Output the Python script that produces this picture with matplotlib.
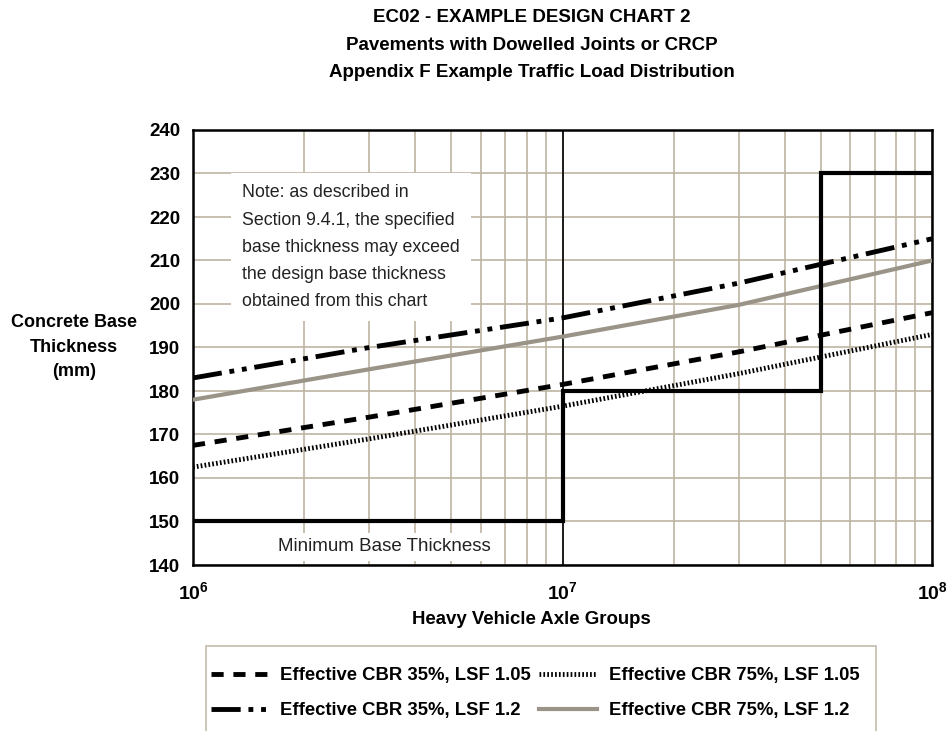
import numpy as np
import matplotlib.pyplot as plt
from matplotlib.ticker import LogLocator, NullFormatter
from matplotlib.patches import Rectangle

# -----------------------------
# DATA
# -----------------------------
axle_groups = [1e6, 3e6, 1e7, 3e7, 1e8]
cbr35_lsf105 = [167.5, 174.0, 181.5, 189.0, 198.0]
cbr75_lsf105 = [162.5, 169.0, 176.5, 184.0, 193.0]
cbr35_lsf12 = [183.0, 190.0, 196.8, 204.8, 215.0]
cbr75_lsf12 = [178.0, 185.0, 192.5, 199.8, 210.0]

min_x = [1e6, 1e7, 1e7, 5e7, 5e7, 1e8]
min_t = [150, 150, 180, 180, 230, 230]

yticks = list(range(140, 241, 10))

plt.rcParams['font.family'] = ['Liberation Sans', 'DejaVu Sans']
plt.rcParams['mathtext.fontset'] = 'custom'
plt.rcParams['mathtext.bf'] = 'Liberation Sans:bold'
plt.rcParams['mathtext.rm'] = 'Liberation Sans:bold'

grid_c = '#bdb5a2'
W, H = 949, 731

fig = plt.figure(figsize=(W/100, H/100), dpi=100)
ax = fig.add_axes([193/W, 1-565/H, (932-193)/W, (565-130)/H])

# -----------------------------
# CURVES
# -----------------------------
ax.plot(axle_groups, cbr75_lsf12, color='#9a9488', lw=3, label='Effective CBR 75%, LSF 1.2', zorder=3)
ax.plot(axle_groups, cbr35_lsf12, color='black', lw=3.5, dashes=(6, 1.6, 1, 1.6, 1, 1.6),
        label='Effective CBR 35%, LSF 1.2', zorder=4)
ax.plot(axle_groups, cbr35_lsf105, color='black', lw=3.5, dashes=(2.5, 2),
        label='Effective CBR 35%, LSF 1.05', zorder=4)
ax.plot(axle_groups, cbr75_lsf105, color='black', lw=3.5, dashes=(0.35, 0.45),
        label='Effective CBR 75%, LSF 1.05', zorder=4)
ax.plot(min_x, min_t, color='black', lw=3, zorder=5, solid_joinstyle='miter')

ax.axvline(1e7, color='black', lw=1.2, zorder=2)

# -----------------------------
# AXES
# -----------------------------
ax.set_xscale('log')
ax.set_xlim(1e6, 1e8)
ax.set_ylim(140, 240)
ax.xaxis.set_minor_locator(LogLocator(base=10, subs=np.arange(2, 10), numticks=20))
ax.xaxis.set_minor_formatter(NullFormatter())
ax.grid(True, which='both', color=grid_c, lw=1.2, zorder=0)
ax.tick_params(which='both', length=0)
ax.tick_params(axis='y', pad=9)
ax.tick_params(axis='x', pad=12)
ax.set_yticks(yticks)
ax.set_yticklabels([str(v) for v in yticks], fontsize=13.5, fontweight='bold')
ax.set_xticks([1e6, 1e7, 1e8])
ax.set_xticklabels([r'$\mathbf{10^6}$', r'$\mathbf{10^7}$', r'$\mathbf{10^8}$'], fontsize=14)
for s in ax.spines.values():
    s.set_linewidth(1.8)

ax.text(1.36e6, 227.5, 'Note: as described in\nSection 9.4.1, the specified\nbase thickness may exceed\n'
        'the design base thickness\nobtained from this chart',
        fontsize=12.8, va='top', ha='left', linespacing=1.78, color='#222222',
        bbox=dict(facecolor='white', edgecolor='none', pad=8), zorder=3)
ax.text(3.3e6, 144.2, 'Minimum Base Thickness', fontsize=13.5, ha='center', va='center',
        color='#222222', bbox=dict(facecolor='white', edgecolor='none', pad=4), zorder=3)

# -----------------------------
# TITLES / LABELS
# -----------------------------
fig.text(532/W, 1-45/H, 'EC02 - EXAMPLE DESIGN CHART 2\nPavements with Dowelled Joints or CRCP\n'
         'Appendix F Example Traffic Load Distribution',
         ha='center', va='center', fontsize=13.5, fontweight='bold', linespacing=1.8)
fig.text(74/W, 1-347/H, 'Concrete Base\nThickness\n(mm)', ha='center', va='center',
         fontsize=13, fontweight='bold', linespacing=1.55)
fig.text(531/W, 1-620/H, 'Heavy Vehicle Axle Groups', ha='center', va='center',
         fontsize=13.4, fontweight='bold')

# -----------------------------
# LEGEND (frame drawn separately, runs off the bottom edge)
# -----------------------------
fig.patches.append(Rectangle((206/W, 1-740/H), (876-206)/W, (740-646)/H,
                             transform=fig.transFigure, facecolor='white',
                             edgecolor='#c8c2b4', lw=1.3, zorder=0))
h, l = ax.get_legend_handles_labels()
order = [2, 1, 3, 0]
leg = fig.legend([h[i] for i in order], [l[i] for i in order], ncol=2,
                 loc='upper left', bbox_to_anchor=(211/W, 1-667/H),
                 frameon=False, borderpad=0, borderaxespad=0,
                 handlelength=3.1, columnspacing=0.45, handletextpad=0.65,
                 prop=dict(weight='bold', size=13.3), labelspacing=1.0)

plt.savefig('out.png', dpi=100)
